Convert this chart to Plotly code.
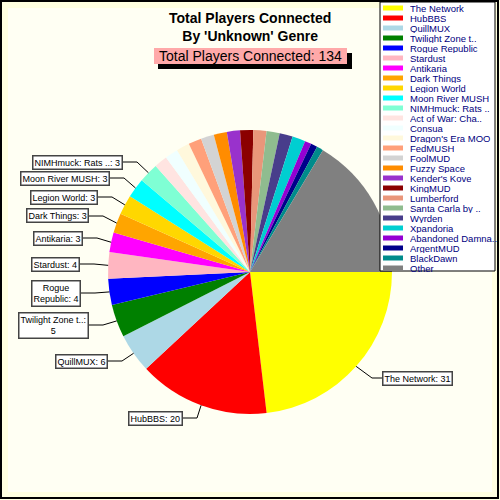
import numpy as np
import plotly.graph_objects as go

# ---------------- data ----------------
names = ["The Network", "HubBBS", "QuillMUX", "Twilight Zone t..", "Rogue Republic",
         "Stardust", "Antikaria", "Dark Things", "Legion World", "Moon River MUSH",
         "NIMHmuck: Rats ..", "Act of War: Cha..", "Consua", "Dragon's Era MOO",
         "FedMUSH", "FoolMUD", "Fuzzy Space", "Kender's Kove", "KingMUD",
         "Lumberford", "Santa Carla by ..", "Wyrden", "Xpandoria",
         "Abandoned Damna..", "ArgentMUD", "BlackDawn", "Other"]
values = [31, 20, 6, 5, 4, 4, 3, 3, 3, 3, 3, 2, 2, 2, 2, 2, 2, 2, 2, 2, 2, 2, 2, 1, 1, 1, 22]
colors = ["#FFFF00", "#FF0000", "#ADD8E6", "#008000", "#0000FF", "#FFB6C1", "#FF00FF",
          "#FFA500", "#FFD700", "#00FFFF", "#7FFFD4", "#FFE4E1", "#F0FFFF", "#FFF8DC",
          "#FFA07A", "#D3D3D3", "#FF8C00", "#9932CC", "#8B0000", "#E9967A", "#8FBC8F",
          "#483D8B", "#00CED1", "#9400D3", "#00008B", "#008B8B", "#808080"]
label_texts = ["The Network: 31", "HubBBS: 20", "QuillMUX: 6", "Twilight Zone t..:<br>5",
               "Rogue<br>Republic: 4", "Stardust: 4", "Antikaria: 3", "Dark Things: 3",
               "Legion World: 3", "Moon River MUSH: 3", "NIMHmuck: Rats ..: 3"]
title_text = "Total Players Connected<br>By 'Unknown' Genre"
total_text = "Total Players Connected: 134"

# ---------------- layout helpers (pixels -> paper) ----------------
W = H = 500
def px(x): return x / W
def py(y): return 1 - y / H

cx, cy, R = 250, 272, 142
# label box anchors: (edge x, center y, side)
label_pos = [(382, 378, "left"), (183, 418, "right"), (108, 361, "right"), (89, 325, "right"),
             (81, 293, "right"), (80, 264, "right"), (83, 238, "right"), (89, 216, "right"),
             (98, 197, "right"), (110, 178, "right"), (123, 162, "right")]

FONT = "Liberation Sans, Arial"

fig = go.Figure()
fig.add_trace(go.Pie(
    labels=names, values=values, sort=False, direction="clockwise", rotation=90,
    marker=dict(colors=colors, line=dict(width=0)), textinfo="none", hoverinfo="label+value",
    domain=dict(x=[px(cx - R), px(cx + R)], y=[py(cy + R), py(cy - R)]),
    showlegend=False,
))

shapes = []
annotations = []

# background
shapes.append(dict(type="rect", xref="paper", yref="paper", x0=0, x1=1, y0=0, y1=1,
                   fillcolor="#FFFFDF", line=dict(width=0), layer="below"))
shapes.append(dict(type="rect", xref="paper", yref="paper", x0=px(8), x1=px(492), y0=py(492), y1=py(8),
                   fillcolor="#FFFFF3", line=dict(width=0), layer="below"))
# outer border
shapes.append(dict(type="rect", xref="paper", yref="paper", x0=px(1), x1=px(498), y0=py(498), y1=py(1),
                   line=dict(color="black", width=2), layer="above"))

# title
annotations.append(dict(text="<b>" + title_text + "</b>", x=px(250), y=py(27), xref="paper", yref="paper",
                        showarrow=False, xanchor="center", yanchor="middle",
                        font=dict(family=FONT, size=14, color="black")))
# total box with shadow
shapes.append(dict(type="rect", xref="paper", yref="paper", x0=px(158), x1=px(352), y0=py(69), y1=py(53),
                   fillcolor="black", line=dict(width=0)))
shapes.append(dict(type="rect", xref="paper", yref="paper", x0=px(154), x1=px(347), y0=py(64), y1=py(48),
                   fillcolor="#FFA9A9", line=dict(width=0)))
annotations.append(dict(text=total_text, x=px(250), y=py(56), xref="paper", yref="paper",
                        showarrow=False, xanchor="center", yanchor="middle",
                        font=dict(family=FONT, size=14, color="black")))

# legend
shapes.append(dict(type="rect", xref="paper", yref="paper", x0=px(380), x1=px(495), y0=py(271), y1=py(2),
                   fillcolor="white", line=dict(color="black", width=1)))
for i, (n, c) in enumerate(zip(names, colors)):
    yc = 8 + 10 * i
    shapes.append(dict(type="rect", xref="paper", yref="paper", x0=px(383), x1=px(403),
                       y0=py(yc + 2.5), y1=py(yc - 2.5), fillcolor=c, line=dict(width=0)))
    annotations.append(dict(text=n, x=px(409), y=py(yc), xref="paper", yref="paper",
                            showarrow=False, xanchor="left", yanchor="middle",
                            height=10, borderpad=0, valign="middle",
                            font=dict(family=FONT, size=9.5, color="#000080")))

# slice labels with leader lines
vals = np.array(values, dtype=float)
cum = np.cumsum(vals) - vals / 2
mid_deg = cum / vals.sum() * 360.0
for i, (txt, (ex, ey, side)) in enumerate(zip(label_texts, label_pos)):
    th = np.deg2rad(mid_deg[i])
    sx, sy = cx + R * np.cos(th), cy + R * np.sin(th)
    elbow = ex + 14 if side == "right" else ex - 10
    shapes.append(dict(type="path", xref="paper", yref="paper",
                       path=f"M {px(ex)},{py(ey)} L {px(elbow)},{py(ey)} L {px(sx)},{py(sy)}",
                       line=dict(color="black", width=1)))
    annotations.append(dict(text=txt, x=px(ex), y=py(ey), xref="paper", yref="paper",
                            showarrow=False, xanchor=side, yanchor="middle",
                            bgcolor="white", bordercolor="#444444", borderwidth=1.5, borderpad=1,
                            font=dict(family=FONT, size=9, color="black")))

fig.update_layout(width=W, height=H, autosize=False, margin=dict(l=0, r=0, t=0, b=0),
                  paper_bgcolor="#FFFFDF", plot_bgcolor="#FFFFDF",
                  shapes=shapes, annotations=annotations, showlegend=False)
fig.write_html("out.html", config={"displayModeBar": False},
               post_script="document.body.style.margin='0px';")
